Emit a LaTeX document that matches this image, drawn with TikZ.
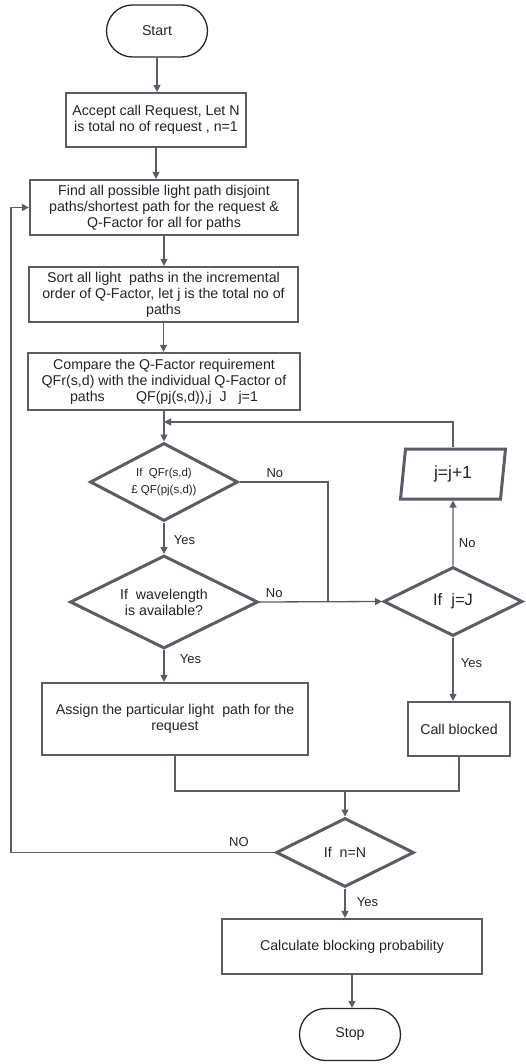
\documentclass[tikz,border=0pt]{standalone}
\usepackage{fontspec}
\setmainfont{Liberation Sans}
\usepackage{tikz}
\usetikzlibrary{shapes.geometric,shapes.misc,arrows.meta}

\definecolor{linegray}{RGB}{92,92,102}
\definecolor{textgray}{RGB}{35,35,40}

\begin{document}
\begin{tikzpicture}[x=1pt, y=-1pt,
    every node/.style={text=textgray, font=\fontsize{14.2}{16}\selectfont},
    terminal/.style={rounded rectangle, draw=black!85, line width=1.3pt, minimum width=101pt, minimum height=52pt, inner sep=0pt},
    stepbox/.style={rectangle, draw=linegray, line width=2.2pt, align=center, inner sep=0pt},
    decision/.style={diamond, draw=linegray, line width=3pt, aspect=2, inner sep=0pt, align=center},
    iobox/.style={trapezium, trapezium left angle=73, trapezium right angle=107, trapezium stretches body, draw=linegray, line width=3pt, inner sep=0pt},
    arr/.style={-{Triangle[length=7pt,width=7pt]}, draw=linegray, line width=1.3pt},
    con/.style={draw=linegray, line width=1.3pt},
    lbl/.style={font=\fontsize{13}{15}\selectfont}]
    \useasboundingbox (0,0) rectangle (526,1064);

    \node[terminal] (start) at (157,31) {Start};
    \node[stepbox, minimum width=180pt, minimum height=54pt] (accept) at (156,120)
        {Accept call Request, Let N\\is total no of request , n=1};
    \node[stepbox, minimum width=268pt, minimum height=55pt] (find) at (164,207.5)
        {Find all possible light path disjoint\\paths/shortest path for the request \&\\Q-Factor for all for paths};
    \node[stepbox, minimum width=269pt, minimum height=55pt] (sort) at (163.5,294.5)
        {Sort all light\ \ paths in the incremental\\order of Q-Factor, let j is the total no of\\paths};
    \node[stepbox, minimum width=272pt, minimum height=57pt] (compare) at (164,381.5)
        {Compare the Q-Factor requirement\\QFr(s,d) with the individual Q-Factor of\\paths\hspace{2.2em}QF(pj(s,d)),j\ \ J\ \ \ j=1};

    \node[decision, minimum width=148pt, minimum height=78pt, font=\fontsize{11.5}{17}\selectfont] (qcheck) at (164,482)
        {If\ \ QFr(s,d)\\£ QF(pj(s,d))};
    \node[decision, minimum width=188pt, minimum height=93pt] (wave) at (164,602)
        {If\ \ wavelength\\is available?};
    \node[decision, minimum width=139pt, minimum height=69pt, font=\fontsize{16.5}{18}\selectfont] (jcheck) at (453,601.5)
        {If\ \ j=J};
    \node[iobox, minimum width=105pt, minimum height=50pt, font=\fontsize{17.5}{19}\selectfont] (jinc) at (453,474) {j=j+1};

    \node[stepbox, minimum width=266pt, minimum height=72pt] (assign) at (175,719)
        {Assign the particular light\ \ path for the\\request};
    \node[stepbox, minimum width=102pt, minimum height=54pt] (blocked) at (459,729) {Call blocked};

    \node[decision, minimum width=138pt, minimum height=69pt] (ncheck) at (345,852.5) {If\ \ n=N};
    \node[stepbox, minimum width=260pt, minimum height=55pt] (calc) at (352,946.5)
        {Calculate blocking probability};
    \node[terminal] (stop) at (350,1034.5) {Stop};

    \coordinate (back) at (164,422);
    \coordinate (join) at (328,602);
    \coordinate (merge) at (345,791);
    \coordinate (loop) at (11,852.5);

    % main line
    \draw[arr] (start.south) -- (start.south |- accept.north);
    \draw[arr] (accept.south) -- (accept.south |- find.north);
    \draw[arr] (find.south) -- (find.south |- sort.north);
    \draw[arr] (sort.south) -- (sort.south |- compare.north);
    \draw[arr] (compare.south) -- (qcheck.north);
    \draw[arr] (qcheck.south) -- node[lbl, right, pos=0.55, xshift=6pt] {Yes} (wave.north);
    \draw[arr] (wave.south) -- node[lbl, right, pos=0.3, xshift=12pt] {Yes} (wave.south |- assign.north);

    % no branches
    \draw[con] (qcheck.east) -| node[lbl, above, pos=0.2] {No} (join);
    \draw[arr] (wave.east) -- node[lbl, above, pos=0.12] {No} (jcheck.west);
    \draw[arr] (jcheck.north) -- node[lbl, right, pos=0.35, xshift=2pt] {No} (jinc.south);
    \draw[arr] (jinc.north) |- (back);
    \draw[arr] (jcheck.south) -- node[lbl, right, pos=0.4, xshift=4pt] {Yes} (jcheck.south |- blocked.north);

    % merge and loop
    \draw[con] (assign.south) |- (merge) -| (blocked.south);
    \draw[arr] (merge) -- (ncheck.north);
    \draw[arr] (ncheck.west) -- node[lbl, above, pos=0.135, yshift=2pt] {NO} (loop) |- (find.west);
    \draw[arr] (ncheck.south) -- node[lbl, right, pos=0.45, xshift=8pt] {Yes} (ncheck.south |- calc.north);
    \draw[arr] (calc.south) -- (calc.south |- stop.north);
\end{tikzpicture}
\end{document}
